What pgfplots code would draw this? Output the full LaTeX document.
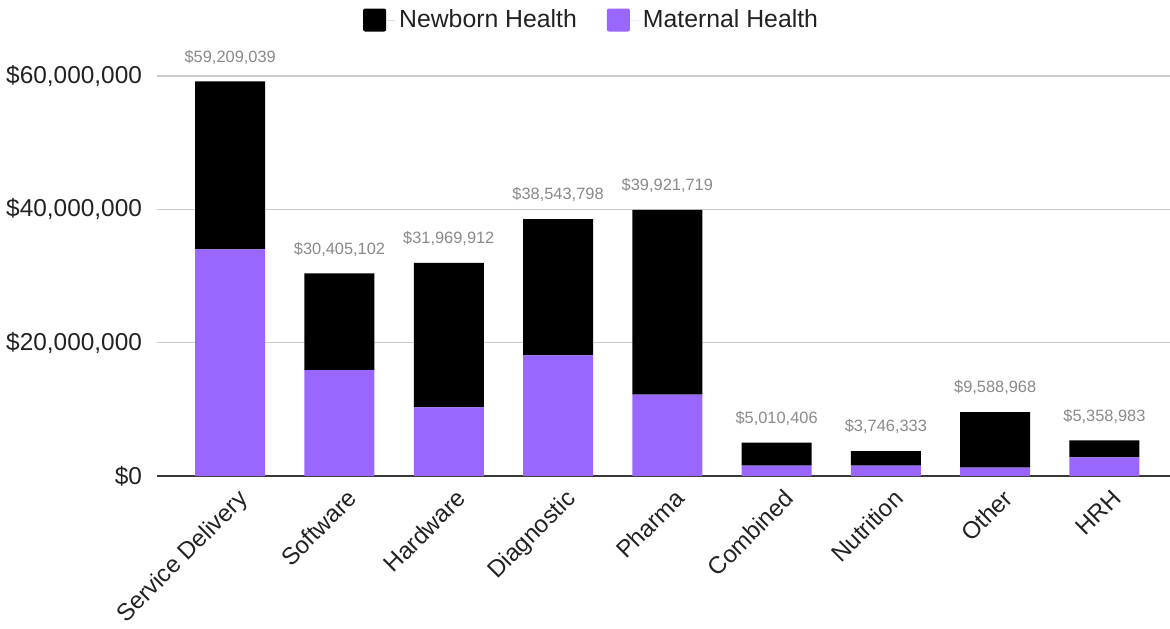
\documentclass[border=0pt]{standalone}
\usepackage{pgfplots}
\usepackage{pgfplotstable}
\pgfplotsset{compat=1.18}
\usepackage{fontspec}
\setmainfont{Liberation Sans}
\definecolor{matern}{HTML}{9966FF}
\definecolor{labgray}{HTML}{8A8A8A}
\definecolor{gridc}{HTML}{CCCCCC}
\definecolor{txt}{HTML}{222222}
\pgfplotstableread{
x maternal newborn total label
0 34000000 25209039 59209039 {\$59,209,039}
1 15900000 14505102 30405102 {\$30,405,102}
2 10300000 21669912 31969912 {\$31,969,912}
3 18100000 20443798 38543798 {\$38,543,798}
4 12200000 27721719 39921719 {\$39,921,719}
5 1550000 3460406 5010406 {\$5,010,406}
6 1550000 2196333 3746333 {\$3,746,333}
7 1250000 8338968 9588968 {\$9,588,968}
8 2800000 2558983 5358983 {\$5,358,983}
}\data
\begin{document}
\begin{tikzpicture}
\useasboundingbox (-78.5pt,-76pt) rectangle (506.5pt,238pt);
\begin{axis}[
  at={(0,0)}, anchor=south west,
  scale only axis,
  width=506.5pt, height=200pt,
  ybar stacked, bar width=35pt,
  xmin=-0.67, xmax=8.6,
  ymin=0, ymax=60000000,
  clip=false,
  axis x line*=bottom, axis y line*=left,
  x axis line style={draw=txt!90, line width=1.1pt, -},
  y axis line style={draw=none},
  major tick length=0pt,
  ymajorgrids, grid style={gridc, line width=0.6pt},
  xtick={0,...,8},
  xticklabels={Service Delivery,Software,Hardware,Diagnostic,Pharma,Combined,Nutrition,Other,HRH},
  xticklabel style={rotate=45, anchor=north east, font=\fontsize{12}{14}\selectfont, text=txt, xshift=1.5pt, yshift=-3pt},
  ytick={0,20000000,40000000,60000000},
  yticklabels={{\$0},{\$20,000,000},{\$40,000,000},{\$60,000,000}},
  scaled y ticks=false,
  yticklabel style={font=\fontsize{12.2}{14}\selectfont, text=txt, xshift=-4pt},
  reverse legend,
  legend columns=2,
  legend style={draw=none, fill=none, at={(0.43,1.14)}, anchor=center,
    font=\fontsize{12.4}{14}\selectfont, text=txt,
    /tikz/every even column/.append style={column sep=13pt}},
  legend image code/.code={\fill[#1, rounded corners=1pt] (0pt,-5.75pt) rectangle (11.5pt,5.75pt); \path (0pt,0pt) -- (16pt,0pt);},
]
\addplot[fill=matern, draw=none] table[x=x, y=maternal] {\data};
\addplot[fill=black, draw=none] table[x=x, y=newborn] {\data};
\legend{Maternal Health, Newborn Health}
\end{axis}
\begin{axis}[
  at={(0,0)}, anchor=south west,
  scale only axis,
  width=506.5pt, height=200pt,
  xmin=-0.67, xmax=8.6,
  ymin=0, ymax=60000000,
  clip=false, hide axis,
]
\addplot[draw=none, mark=none,
  nodes near coords, point meta=explicit symbolic,
  every node near coord/.append style={font=\fontsize{8.2}{10}\selectfont, text=labgray, anchor=south, yshift=5pt}]
  table[x=x, y=total, meta=label] {\data};
\end{axis}
\end{tikzpicture}
\end{document}
